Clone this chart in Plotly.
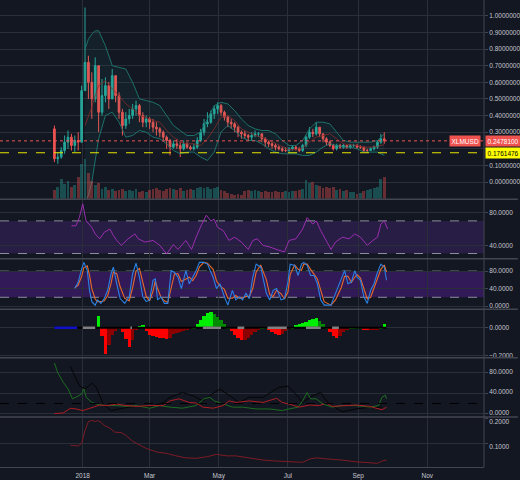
import pandas as pd
import plotly.graph_objects as go

# ---------------- data ----------------
candle_start = "2017-12-07"          # first candle, 3-day candles
first_open = 0.32
close = [0.14, 0.15, 0.19, 0.24, 0.27, 0.22, 0.25, 0.24, 0.55, 0.72,
         0.60, 0.50, 0.70, 0.42, 0.52, 0.58, 0.50, 0.64, 0.52, 0.42,
         0.34, 0.38, 0.40, 0.44, 0.46, 0.40, 0.36, 0.38, 0.36, 0.33,
         0.32, 0.30, 0.27, 0.25, 0.21, 0.23, 0.22, 0.20, 0.23, 0.21,
         0.20, 0.21, 0.25, 0.30, 0.35, 0.36, 0.41, 0.44, 0.46, 0.42,
         0.39, 0.36, 0.35, 0.33, 0.30, 0.29, 0.28, 0.27, 0.28, 0.29,
         0.29, 0.26, 0.24, 0.23, 0.22, 0.21, 0.20, 0.19, 0.19, 0.20,
         0.21, 0.20, 0.19, 0.22, 0.27, 0.30, 0.29, 0.33, 0.29, 0.26,
         0.24, 0.22, 0.20, 0.22, 0.21, 0.22, 0.21, 0.22, 0.22, 0.21,
         0.21, 0.19, 0.19, 0.20, 0.21, 0.24, 0.26, 0.24781]
high = [0.34, 0.18, 0.21, 0.28, 0.31, 0.29, 0.28, 0.30, 0.58, 1.05,
        0.76, 0.66, 0.75, 0.70, 0.62, 0.63, 0.60, 0.68, 0.64, 0.54,
        0.44, 0.42, 0.44, 0.47, 0.49, 0.47, 0.42, 0.40, 0.39, 0.38,
        0.36, 0.33, 0.31, 0.28, 0.26, 0.25, 0.26, 0.24, 0.25, 0.24,
        0.22, 0.23, 0.27, 0.32, 0.38, 0.42, 0.43, 0.46, 0.48, 0.47,
        0.43, 0.40, 0.38, 0.36, 0.34, 0.31, 0.31, 0.29, 0.30, 0.31,
        0.30, 0.29, 0.27, 0.25, 0.24, 0.23, 0.22, 0.21, 0.21, 0.21,
        0.22, 0.22, 0.21, 0.23, 0.28, 0.33, 0.32, 0.36, 0.33, 0.29,
        0.27, 0.25, 0.23, 0.23, 0.23, 0.23, 0.22, 0.23, 0.23, 0.23,
        0.22, 0.21, 0.20, 0.21, 0.22, 0.25, 0.29, 0.30]
low = [0.12, 0.11, 0.14, 0.17, 0.20, 0.19, 0.18, 0.19, 0.24, 0.55,
       0.50, 0.38, 0.48, 0.30, 0.40, 0.48, 0.44, 0.50, 0.48, 0.38,
       0.28, 0.32, 0.35, 0.38, 0.40, 0.36, 0.33, 0.33, 0.32, 0.30,
       0.28, 0.27, 0.25, 0.20, 0.16, 0.20, 0.20, 0.15, 0.19, 0.20,
       0.19, 0.19, 0.20, 0.24, 0.28, 0.33, 0.35, 0.38, 0.41, 0.40,
       0.37, 0.33, 0.32, 0.30, 0.27, 0.26, 0.26, 0.25, 0.25, 0.27,
       0.27, 0.24, 0.21, 0.21, 0.20, 0.19, 0.19, 0.18, 0.18, 0.18,
       0.19, 0.19, 0.18, 0.18, 0.21, 0.26, 0.27, 0.28, 0.27, 0.24,
       0.22, 0.21, 0.19, 0.19, 0.20, 0.20, 0.20, 0.20, 0.21, 0.20,
       0.20, 0.18, 0.18, 0.19, 0.19, 0.20, 0.23, 0.23]
volume = [9, 12, 20, 15, 18, 12, 14, 22, 35, 40,
          26, 18, 14, 16, 10, 12, 9, 10, 8, 9,
          10, 8, 9, 8, 10, 7, 8, 7, 9, 10,
          11, 9, 8, 10, 11, 10, 9, 11, 8, 9,
          10, 9, 11, 12, 11, 12, 10, 11, 12, 9,
          8, 6, 5, 4, 5, 4, 8, 9, 8, 9,
          8, 7, 8, 7, 7, 8, 7, 7, 8, 7,
          8, 8, 9, 10, 19, 16, 17, 14, 13, 11,
          12, 11, 12, 9, 10, 8, 9, 7, 7, 5,
          6, 8, 9, 10, 11, 12, 20, 22]
squeeze = [None] * 13 + [
    0.09, -0.06, -0.19, -0.12, -0.05, -0.02, -0.005, -0.03, -0.08, -0.14,
    -0.09, -0.01, 0.015, 0.02, -0.02, -0.05, -0.06, -0.065, -0.07, -0.075,
    -0.08, -0.07, -0.04, -0.035, -0.03, -0.02, -0.012, -0.005, 0.005, 0.03,
    0.06, 0.09, 0.11, 0.115, 0.10, 0.08, 0.06, 0.03, 0.005, -0.02,
    -0.05, -0.07, -0.09, -0.085, -0.07, -0.05, -0.03, -0.015, 0.01, 0.005,
    -0.015, -0.03, -0.045, -0.05, -0.04, -0.02, -0.005, 0.005, 0.02, 0.03,
    0.04, 0.045, 0.055, 0.065, 0.07, 0.05, 0.03, 0.005, -0.03, -0.06,
    -0.075, -0.055, -0.03, -0.01, 0.008, 0.01, 0.01, 0.008, -0.01, -0.015,
    -0.015, -0.012, -0.008, 0.01, 0.03]

# day offsets from 2018-01-01
bb_days = [2, 5, 8, 11, 14, 20, 26, 32, 38, 44, 50, 56, 62, 68, 74, 80, 86, 92, 98, 104,
           110, 116, 122, 128, 134, 140, 146, 152, 158, 164, 170, 176, 182, 188, 194, 200,
           206, 212, 218, 224, 230, 236, 242, 248, 254, 260, 266]
bb_upper = [0.80, 0.86, 0.89, 0.91, 0.91, 0.82, 0.70, 0.69, 0.68, 0.60,
            0.50, 0.49, 0.48, 0.46, 0.40, 0.34, 0.31, 0.28, 0.28, 0.30,
            0.38, 0.46, 0.48, 0.47, 0.43, 0.38, 0.34, 0.32, 0.31, 0.31,
            0.29, 0.25, 0.22, 0.22, 0.25, 0.32, 0.36, 0.36, 0.35, 0.30,
            0.25, 0.24, 0.24, 0.24, 0.24, 0.25, 0.29]
bb_lower = [-0.12, -0.08, 0.0, 0.14, 0.26, 0.40, 0.42, 0.36, 0.27, 0.28,
            0.31, 0.30, 0.27, 0.26, 0.23, 0.19, 0.17, 0.18, 0.18, 0.15,
            0.13, 0.18, 0.30, 0.34, 0.31, 0.27, 0.25, 0.25, 0.23, 0.20,
            0.18, 0.17, 0.17, 0.17, 0.16, 0.16, 0.18, 0.21, 0.23, 0.22,
            0.21, 0.21, 0.20, 0.18, 0.18, 0.18, 0.16]
bb_basis = [0.34, 0.39, 0.45, 0.52, 0.58, 0.61, 0.56, 0.52, 0.47, 0.44,
            0.40, 0.39, 0.37, 0.36, 0.31, 0.27, 0.24, 0.23, 0.23, 0.22,
            0.26, 0.32, 0.39, 0.40, 0.37, 0.32, 0.30, 0.28, 0.27, 0.25,
            0.23, 0.21, 0.195, 0.195, 0.205, 0.24, 0.27, 0.28, 0.29, 0.26,
            0.23, 0.225, 0.22, 0.21, 0.21, 0.215, 0.225]

rsi_days = [-10, -6, -3, 0, 2, 3, 8, 11, 15, 19, 24, 27, 30, 34, 40, 46, 49, 55, 62, 68,
            74, 80, 84, 91, 96, 100, 105, 109, 113, 116, 119, 124, 129, 134, 140, 146, 150,
            154, 159, 165, 173, 178, 182, 188, 194, 198, 203, 206, 210, 215, 219, 223, 229,
            235, 240, 245, 251, 256, 260, 263, 266, 269]
rsi = [64, 64, 74, 91, 76, 70, 62, 54, 48, 56, 60, 52, 46, 40, 48, 54, 48, 44, 46, 40,
       29.5, 41, 35, 46, 35, 50, 66, 77, 70, 72, 62, 58, 46, 50, 44, 35, 46, 48, 40, 38,
       34, 32, 46, 48, 60, 74, 66, 70, 58, 46, 35, 44, 50, 48, 54, 50, 40, 46, 50, 66,
       70, 60]

stoch_days = [-7, -4, -1, 1, 4, 6, 8, 11, 13, 16, 19, 22, 25, 27, 30, 33, 37, 41, 44, 47,
              50, 53, 56, 59, 62, 64, 66, 69, 72, 75, 78, 81, 84, 87, 91, 94, 97, 100, 103,
              107, 110, 115, 118, 121, 125, 128, 132, 135, 138, 141, 144, 147, 150, 153,
              157, 162, 165, 168, 171, 175, 178, 181, 183, 187, 190, 193, 195, 198, 201,
              204, 207, 210, 213, 219, 223, 228, 231, 234, 237, 240, 242, 245, 248, 251,
              254, 257, 260, 263, 266, 268]
stoch_k = [40, 55, 85, 100, 81, 36, 10, 2, 14, 6, 17, 36, 74, 89, 51, 17, 6, 21, 74, 98,
           66, 21, 10, 14, 59, 62, 14, 21, 6, 6, 81, 77, 66, 40, 81, 51, 66, 81, 100, 100,
           96, 66, 40, 51, 21, 2, 36, 14, 21, 14, 29, 17, 66, 96, 89, 29, 14, 36, 40, 14,
           17, 55, 96, 93, 70, 96, 100, 93, 70, 70, 51, 14, 2, 2, 29, 59, 81, 51, 55, 81,
           66, 59, 21, 6, 36, 51, 77, 96, 89, 59]
stoch_d = [42, 48, 68, 88, 92, 70, 40, 16, 10, 10, 12, 24, 52, 78, 74, 44, 18, 12, 42, 80,
           86, 52, 22, 12, 34, 58, 40, 20, 12, 8, 40, 74, 74, 56, 62, 66, 58, 70, 90, 100,
           98, 84, 58, 46, 38, 18, 18, 24, 18, 18, 22, 22, 40, 78, 94, 60, 26, 22, 36, 28,
           16, 32, 72, 94, 84, 82, 96, 96, 84, 72, 62, 36, 10, 2, 14, 42, 68, 68, 54, 66,
           72, 64, 40, 16, 20, 42, 62, 84, 94, 78]

# squeeze zero-line markers: (start day, end day)
sqz_blue = [(-25, -5)]
sqz_grey = [(0, 11), (42, 43.5), (106, 122), (136.5, 142.5), (163, 180), (197, 210), (220, 226)]
sqz_span = (-25, 268)

dmi_plus_days = [-25, -22, -17, -13, -9, -4, -1, 1, 3, 8, 15, 22, 30, 38, 47, 59, 68, 77, 88,
                 100, 107, 112, 116, 124, 132, 141, 153, 165, 176, 182, 190, 194, 198, 201,
                 206, 212, 220, 229, 241, 253, 261, 264, 267, 268]
dmi_plus = [98, 79, 60, 48, 29, 35, 38, 48, 32, 22, 17, 16, 16, 14.5, 16, 11, 16, 13, 11, 16,
            29, 32, 25, 19, 13, 13, 9.5, 9.5, 6.3, 9.5, 13, 25, 41, 29, 29, 19, 13, 16, 16,
            13, 16, 32, 36, 29]
dmi_minus_days = [-25, -17, -11, -6, 0, 6, 15, 22, 30, 38, 47, 59, 71, 77, 85, 94, 100, 106,
                  115, 124, 129, 135, 147, 159, 171, 176, 182, 191, 200, 209, 215, 220, 229,
                  241, 253, 264, 268]
dmi_minus = [0.5, 2, 10.7, 9.5, 6.3, 10.7, 17, 16, 19, 16, 14.5, 16, 16, 25, 29, 22, 21, 13,
             11, 16, 25, 22, 25, 22, 30, 22, 19, 13, 17, 16, 21, 14.5, 16, 17, 14.5, 8, 13]
adx_days = [-11, -3, 2, 8, 12, 18, 25, 35, 47, 59, 71, 77, 88, 97, 106, 112, 121, 129, 138,
            147, 159, 173, 181, 188, 194, 203, 210, 217, 229, 241, 253, 264]
adx = [92, 54, 48, 59, 51, 19, 6, 11, 14.5, 13, 22, 32, 41, 35, 25, 35, 48, 35, 22, 32, 32,
       51, 53, 38, 22, 35, 41, 19, 4, 9.5, 12.7, 12.7]

atr_days = [-11, -7, -4, -1, 2, 5, 8, 11, 13, 16, 19, 24, 28, 34, 38, 44, 50, 56, 65, 74,
            82, 91, 100, 109, 118, 127, 135, 147, 159, 171, 182, 194, 200, 206, 217, 229,
            241, 253, 260, 264, 268]
atr = [0.092, 0.089, 0.089, 0.099, 0.152, 0.188, 0.192, 0.188, 0.192, 0.185,
       0.172, 0.161, 0.145, 0.143, 0.132, 0.108, 0.095, 0.079, 0.065, 0.059,
       0.0495, 0.041, 0.039, 0.045, 0.055, 0.049, 0.049, 0.041, 0.032, 0.028,
       0.025, 0.023, 0.036, 0.041, 0.036, 0.032, 0.025, 0.023, 0.019, 0.028, 0.032]

support_level = 0.1761476
symbol = "XLMUSD"
price_ticks = [0.0, 0.1, 0.2, 0.3, 0.4, 0.5, 0.6, 0.7, 0.8, 0.9, 1.0]
x_tick_dates = ["2018-01-01", "2018-03-01", "2018-05-01", "2018-07-01", "2018-09-01", "2018-11-01"]
x_tick_text = ["2018", "Mar", "May", "Jul", "Sep", "Nov"]

# ---------------- helpers ----------------
BASE = pd.Timestamp("2018-01-01")


def to_dates(days):
    return [BASE + pd.Timedelta(days=d) for d in days]


cdates = list(pd.date_range(candle_start, periods=len(close), freq="3D"))
opens = [first_open] + close[:-1]

BG = "#131722"
GRID = "#2a2e39"
SEP = "#434651"
TXT = "#c3c6ce"
FONT = "Liberation Sans, Arial, sans-serif"
TEAL = "#26a69a"
RED = "#ef5350"

H_PLOT = 472
panes_px = [(0, 201), (202, 261), (262, 312), (313, 361), (362, 421), (422, 472)]


def dom(p):
    top, bot = p
    return [1 - bot / H_PLOT, 1 - top / H_PLOT]


fig = go.Figure()

# Bollinger bands
bbd = to_dates(bb_days)
fig.add_trace(go.Scatter(x=bbd, y=bb_lower, mode="lines", line=dict(color="#1f7a72", width=0.9),
                         yaxis="y", hoverinfo="skip"))
fig.add_trace(go.Scatter(x=bbd, y=bb_upper, mode="lines", line=dict(color="#1f7a72", width=0.9),
                         fill="tonexty", fillcolor="rgba(38,166,154,0.07)", yaxis="y", hoverinfo="skip"))
fig.add_trace(go.Scatter(x=bbd, y=bb_basis, mode="lines", line=dict(color="#8a2b2b", width=0.8),
                         yaxis="y", hoverinfo="skip"))

# candles
fig.add_trace(go.Candlestick(x=cdates, open=opens, high=high, low=low, close=close,
                             increasing=dict(line=dict(color=TEAL, width=1), fillcolor=TEAL),
                             decreasing=dict(line=dict(color=RED, width=1), fillcolor=RED),
                             whiskerwidth=0, yaxis="y", xaxis="x"))

# volume (overlay)
vcol = ["rgba(38,166,154,0.38)" if c >= o else "rgba(239,83,80,0.38)" for o, c in zip(opens, close)]
fig.add_trace(go.Bar(x=cdates, y=volume, marker=dict(color=vcol, line=dict(width=0)),
                     width=3 * 86400000 * 0.85, yaxis="y7"))

# RSI
fig.add_trace(go.Scatter(x=to_dates(rsi_days), y=rsi, mode="lines",
                         line=dict(color="#9a2fb0", width=1), yaxis="y2"))

# Stoch RSI
sd = to_dates(stoch_days)
fig.add_trace(go.Scatter(x=sd, y=stoch_d, mode="lines", line=dict(color="#e8692a", width=1.1), yaxis="y3"))
fig.add_trace(go.Scatter(x=sd, y=stoch_k, mode="lines", line=dict(color="#2a82e6", width=1.1), yaxis="y3"))

# Squeeze momentum
sq_x, sq_y, sq_c = [], [], []
prev = 0
for d, v in zip(cdates, squeeze):
    if v is None:
        continue
    if v > 0:
        col = "#00ee00" if v > prev else "#008a00"
    else:
        col = "#ff0000" if v < prev else "#8b0000"
    sq_x.append(d)
    sq_y.append(v)
    sq_c.append(col)
    prev = v
fig.add_trace(go.Bar(x=sq_x, y=sq_y, marker=dict(color=sq_c, line=dict(width=0)),
                     width=3 * 86400000, yaxis="y4"))
fig.add_trace(go.Scatter(x=to_dates(list(sqz_span)), y=[0, 0], mode="lines",
                         line=dict(color="#000000", width=2), yaxis="y4"))
for a, b in sqz_blue:
    fig.add_trace(go.Scatter(x=to_dates([a, b]), y=[0, 0], mode="lines",
                             line=dict(color="#1010c8", width=2.5), yaxis="y4"))
for a, b in sqz_grey:
    fig.add_trace(go.Scatter(x=to_dates([a, b]), y=[0, 0], mode="lines",
                             line=dict(color="#808080", width=2.5), yaxis="y4"))

# DMI
fig.add_trace(go.Scatter(x=to_dates(adx_days), y=adx, mode="lines",
                         line=dict(color="#050505", width=1), yaxis="y5"))
fig.add_trace(go.Scatter(x=to_dates(dmi_plus_days), y=dmi_plus, mode="lines",
                         line=dict(color="#1d6e22", width=1), yaxis="y5"))
fig.add_trace(go.Scatter(x=to_dates(dmi_minus_days), y=dmi_minus, mode="lines",
                         line=dict(color="#b01e24", width=1), yaxis="y5"))

# bottom pane
fig.add_trace(go.Scatter(x=to_dates(atr_days), y=atr, mode="lines",
                         line=dict(color="#7e1c26", width=1), yaxis="y6"))

tickfont = dict(family=FONT, size=6.5, color=TXT)


def yax(p, rng, tickvals, fmt, ticktext=None, shift=0):
    d = dict(domain=dom(p), range=rng, side="right", anchor="x", tickvals=tickvals,
             tickformat=fmt, showgrid=True, gridcolor=GRID, gridwidth=1, zeroline=False,
             ticks="outside", ticklen=3, tickcolor=SEP, tickfont=tickfont, fixedrange=True,
             showline=False)
    if ticktext is not None:
        d["ticktext"] = ticktext
    if shift:
        d["ticklabelshift"] = shift
    return d


# the 0.2 price label sits under the yellow level tag in the reference
price_text = ["" if abs(v - 0.2) < 1e-9 else f"{v:.7f}" for v in price_ticks]

price_range = [-0.1012, 1.0952]
fig.update_layout(
    width=520, height=480,
    margin=dict(l=0, r=34, t=0, b=8),
    paper_bgcolor=BG, plot_bgcolor=BG,
    showlegend=False, bargap=0,
    xaxis=dict(type="date", range=["2017-10-20", "2018-12-21"], anchor="y6",
               tickvals=x_tick_dates, ticktext=x_tick_text, showgrid=True, gridcolor=GRID,
               zeroline=False, rangeslider=dict(visible=False), tickfont=tickfont,
               showline=True, linecolor=SEP, ticks="", ticklabelstandoff=2),
    yaxis=yax(panes_px[0], price_range, price_ticks, ".7f", price_text),
    yaxis2=yax(panes_px[1], [24.2, 95.8], [40, 80], ".4f"),
    yaxis3=yax(panes_px[2], [-6.1, 107.2], [0, 40, 80], ".4f"),
    yaxis4=yax(panes_px[3], [-0.214, 0.131], [-0.2, 0], ".4f"),
    yaxis5=yax(panes_px[4], [-5.1, 107.2], [0, 40, 80], ".4f", shift=-1),
    yaxis6=yax(panes_px[5], [0.004, 0.204], [0.1, 0.2], ".4f", shift=3),
    yaxis7=dict(overlaying="y", range=[0, 201], visible=False, fixedrange=True),
)

shapes = []
# indicator bands
shapes.append(dict(type="rect", xref="paper", x0=0, x1=1, yref="y2", y0=30, y1=70,
                   fillcolor="#281d45", line=dict(width=0), layer="between"))
shapes.append(dict(type="rect", xref="paper", x0=0, x1=1, yref="y3", y0=20, y1=80,
                   fillcolor="#321a58", line=dict(width=0), layer="between"))
for yr, v in [("y2", 30), ("y2", 70), ("y3", 20), ("y3", 80)]:
    shapes.append(dict(type="line", xref="paper", x0=0, x1=1, yref=yr, y0=v, y1=v,
                       line=dict(color="#8a8d99", width=1, dash="dash"), layer="between"))
shapes.append(dict(type="line", xref="paper", x0=0, x1=1, yref="y5", y0=20, y1=20,
                   line=dict(color="#000000", width=1, dash="dash")))
# price lines
shapes.append(dict(type="line", xref="paper", x0=0, x1=1, yref="y", y0=close[-1], y1=close[-1],
                   line=dict(color=RED, width=1, dash="dot")))
shapes.append(dict(type="line", xref="paper", x0=0, x1=1, yref="y", y0=support_level, y1=support_level,
                   line=dict(color="#e6e600", width=1.2, dash="dash")))
# pane separators
for top, _ in panes_px[1:]:
    yp = 1 - (top - 0.5) / H_PLOT
    shapes.append(dict(type="line", xref="paper", x0=0, x1=520 / 486, yref="paper", y0=yp, y1=yp,
                       line=dict(color=SEP, width=1.5)))
shapes.append(dict(type="line", xref="paper", x0=1, x1=1, yref="paper", y0=0, y1=1,
                   line=dict(color=SEP, width=1)))
fig.update_layout(shapes=shapes)

lab_font = dict(family=FONT, size=6.5, color="#ffffff")
fig.update_layout(annotations=[
    dict(xref="paper", x=1, xanchor="left", yref="y", y=close[-1], text=f"{close[-1]:.7f}",
         showarrow=False, bgcolor=RED, font=lab_font, borderpad=1.5, xshift=1),
    dict(xref="paper", x=1, xanchor="right", yref="y", y=close[-1], text=symbol,
         showarrow=False, bgcolor=RED, font=lab_font, borderpad=1.5, xshift=-3),
    dict(xref="paper", x=1, xanchor="left", yref="y", y=support_level, text=f"{support_level:.7f}",
         showarrow=False, bgcolor="#ffff00", font=dict(family=FONT, size=6.5, color="#000000"),
         borderpad=1.5, xshift=1),
])

fig.write_html("out.html")
